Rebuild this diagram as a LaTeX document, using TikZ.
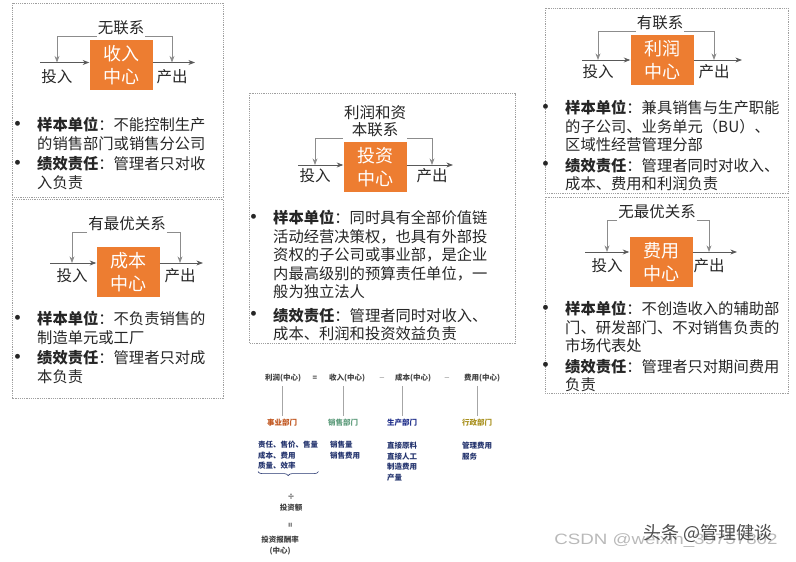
\documentclass[tikz,border=0pt]{standalone}
\usepackage{fontspec}
\setmainfont{Noto Sans CJK SC}
\newfontfamily\wmfont{Liberation Sans}
\usetikzlibrary{arrows.meta,positioning,decorations.pathreplacing}
\definecolor{ctrorange}{HTML}{ED7D31}
\definecolor{txtgray}{HTML}{262626}
\definecolor{lngray}{HTML}{8C8C8C}
\definecolor{subnavy}{HTML}{24346E}
\definecolor{deptred}{HTML}{C0551E}
\definecolor{deptgreen}{HTML}{5E9C7C}
\definecolor{deptblue}{HTML}{1F2E8A}
\definecolor{deptgold}{HTML}{A8901E}
\newcommand{\bul}{\llap{\raisebox{-1.5pt}{\scalebox{1.5}{\textbullet}}\hspace{8pt}}}

\begin{document}
\begin{tikzpicture}[x=1pt, y=-1pt, >=Stealth, every node/.style={text=txtgray},
             frame/.style={draw=gray!75, line width=0.6pt, dash pattern=on 1.2pt off 1pt},
             ctr/.style={fill=ctrorange, text=white, minimum width=63pt, minimum height=50pt,
                         inner sep=0pt, align=center, font=\fontsize{18}{23}\selectfont},
             lbl/.style={fill=white, inner sep=1pt, anchor=south, align=center,
                         font=\fontsize{15.5}{17}\selectfont},
             io/.style={inner sep=0pt, font=\fontsize{15.5}{17}\selectfont},
             flow/.style={->, draw=black!65, line width=0.8pt},
             fb/.style={->, draw=lngray, line width=0.8pt},
             note/.style={anchor=north west, inner sep=0pt, align=left,
                          font=\fontsize{15.3}{18.5}\selectfont},
             fml/.style={inner sep=0pt, text=black!75, font=\fontsize{7.5}{10}\selectfont\bfseries},
             dept/.style={inner sep=0pt, font=\fontsize{7.5}{10}\selectfont\bfseries},
             sub/.style={anchor=north west, inner sep=0pt, align=left, text=subnavy,
                         font=\fontsize{7.5}{10.5}\selectfont\bfseries},
             vl/.style={draw=gray!70, line width=0.7pt, shorten <=4pt, shorten >=3pt}]
\useasboundingbox (0,0) rectangle (796,562);
%% revenue centre
\draw[frame] (12,3) rectangle (223,197);
\node[ctr] (rev) at (121,65) {收入\\中心};
\node[lbl] (revL) at (121,36) {无联系};
\coordinate (revI) at (40,62.5);
\coordinate (revO) at (195,62.5);
\coordinate (revA) at (57,62.5);
\coordinate (revB) at (172,62.5);
\draw[flow] (revI) -- (revI -| rev.west);
\draw[flow] (revO -| rev.east) -- (revO);
\draw[fb] (revL.south west) -| (revA);
\draw[fb] (revL.south east) -| (revB);
\node[io, below=7pt of revA] (revIn) {投入};
\node[io, below=7pt of revB] (revOut) {产出};
\node[note] (revN) at (37,117) {\bul\textbf{样本单位}：不能控制生产\\的销售部门或销售分公司\\[2pt]
  \bul\textbf{绩效责任}：管理者只对收\\入负责};

%% cost centre
\draw[frame] (12,199) rectangle (223,398);
\node[ctr] (cost) at (128,272) {成本\\中心};
\node[lbl] (costL) at (127,232) {有最优关系};
\coordinate (costI) at (50,263);
\coordinate (costO) at (203,263);
\coordinate (costA) at (72,263);
\coordinate (costB) at (180,263);
\draw[flow] (costI) -- (costI -| cost.west);
\draw[flow] (costO -| cost.east) -- (costO);
\draw[fb] (costL.south west) -| (costA);
\draw[fb] (costL.south east) -| (costB);
\node[io, below=5pt of costA] (costIn) {投入};
\node[io, below=5pt of costB] (costOut) {产出};
\node[note] (costN) at (37,311) {\bul\textbf{样本单位}：不负责销售的\\制造单元或工厂\\[2pt]
  \bul\textbf{绩效责任}：管理者只对成\\本负责};

%% investment centre
\draw[frame] (249,93) rectangle (515,343);
\node[ctr] (inv) at (375,167) {投资\\中心};
\node[lbl] (invL) at (375,138) {利润和资\\本联系};
\coordinate (invI) at (298,165);
\coordinate (invO) at (453,165);
\coordinate (invA) at (315,165);
\coordinate (invB) at (432,165);
\draw[flow] (invI) -- (invI -| inv.west);
\draw[flow] (invO -| inv.east) -- (invO);
\draw[fb] (invL.south west) -| (invA);
\draw[fb] (invL.south east) -| (invB);
\node[io, below=3pt of invA] (invIn) {投入};
\node[io, below=3pt of invB] (invOut) {产出};
\node[note] (invN) at (273,210) {\bul\textbf{样本单位}：同时具有全部价值链\\活动经营决策权，也具有外部投\\
  资权的子公司或事业部，是企业\\内最高级别的预算责任单位，一\\般为独立法人\\[5pt]
  \bul\textbf{绩效责任}：管理者同时对收入、\\成本、利润和投资效益负责};

%% profit centre
\draw[frame] (545,8) rectangle (788,193);
\node[ctr] (prof) at (662,60) {利润\\中心};
\node[lbl] (profL) at (660,31) {有联系};
\coordinate (profI) at (582,60);
\coordinate (profO) at (742,60);
\coordinate (profA) at (598,60);
\coordinate (profB) at (714,60);
\draw[flow] (profI) -- (profI -| prof.west);
\draw[flow] (profO -| prof.east) -- (profO);
\draw[fb] (profL.south west) -| (profA);
\draw[fb] (profL.south east) -| (profB);
\node[io, below=4pt of profA] (profIn) {投入};
\node[io, below=4pt of profB] (profOut) {产出};
\node[note] (profN) at (565,100) {\bul\textbf{样本单位}：兼具销售与生产职能\\的子公司、业务单元（BU）、\\区域性经营管理分部\\[2pt]
  \bul\textbf{绩效责任}：管理者同时对收入、\\成本、费用和利润负责};

%% expense centre
\draw[frame] (545,197) rectangle (788,393);
\node[ctr] (exp) at (661,262) {费用\\中心};
\node[lbl] (expL) at (657,220) {无最优关系};
\coordinate (expI) at (585,252);
\coordinate (expO) at (737,252);
\coordinate (expA) at (607,252);
\coordinate (expB) at (709,252);
\draw[flow] (expI) -- (expI -| exp.west);
\draw[flow] (expO -| exp.east) -- (expO);
\draw[fb] (expL.south west) -| (expA);
\draw[fb] (expL.south east) -| (expB);
\node[io, below=6pt of expA] (expIn) {投入};
\node[io, below=6pt of expB] (expOut) {产出};
\node[note] (expN) at (565,301) {\bul\textbf{样本单位}：不创造收入的辅助部\\门、研发部门、不对销售负责的\\市场代表处\\[2pt]
  \bul\textbf{绩效责任}：管理者只对期间费用\\负责};

%% formula
\node[fml] (fP) at (283,378) {利润(中心)};
\node[fml] (fEq) at (315,378) {=};
\node[fml] (fR) at (347,378) {收入(中心)};
\node[fml] (fM1) at (382,378) {$-$};
\node[fml] (fC) at (413,378) {成本(中心)};
\node[fml] (fM2) at (447,378) {$-$};
\node[fml] (fX) at (482,378) {费用(中心)};
\node[dept, text=deptred] (dP) at (282,423) {事业部门};
\node[dept, text=deptgreen] (dS) at (343,423) {销售部门};
\node[dept, text=deptblue] (dM) at (402,423) {生产部门};
\node[dept, text=deptgold] (dA) at (477,423) {行政部门};
\draw[vl] (fP.south -| dP) -- (dP.north);
\draw[vl] (fR.south -| dS) -- (dS.north);
\draw[vl] (fC.south -| dM) -- (dM.north);
\draw[vl] (fX.south -| dA) -- (dA.north);
\node[sub] (sP) at (258,441) {责任、售价、售量\\成本、费用\\质量、效率};
\node[sub] (sS) at (330,441) {销售量\\销售费用};
\node[sub] (sM) at (387,442) {直接原料\\直接人工\\制造费用\\产量};
\node[sub] (sA) at (462,442) {管理费用\\服务};
\draw[decorate, decoration={brace, amplitude=4pt, mirror}, draw=subnavy, line width=0.6pt]
  ([yshift=-2pt]sP.south west) -- ([yshift=-2pt]sP.south east);
\node[fml] (div) at (291,497) {÷};
\node[fml] (inv2) at (291,508) {投资额};
\node[fml, rotate=90] (eq2) at (291,525) {=};
\node[fml] (roi) at (280,540) {投资报酬率};
\node[fml] (roiC) at (280,551) {(中心)};

%% watermarks
\node[text=gray!55, xscale=1.25, font=\wmfont\fontsize{15}{17}\selectfont] (csdn) at (666,541) {CSDN @weixin\_39757802};
\node[text=black!70, font=\fontsize{18}{20}\selectfont] (tt) at (708,533) {头条 @管理健谈};
\end{tikzpicture}
\end{document}
